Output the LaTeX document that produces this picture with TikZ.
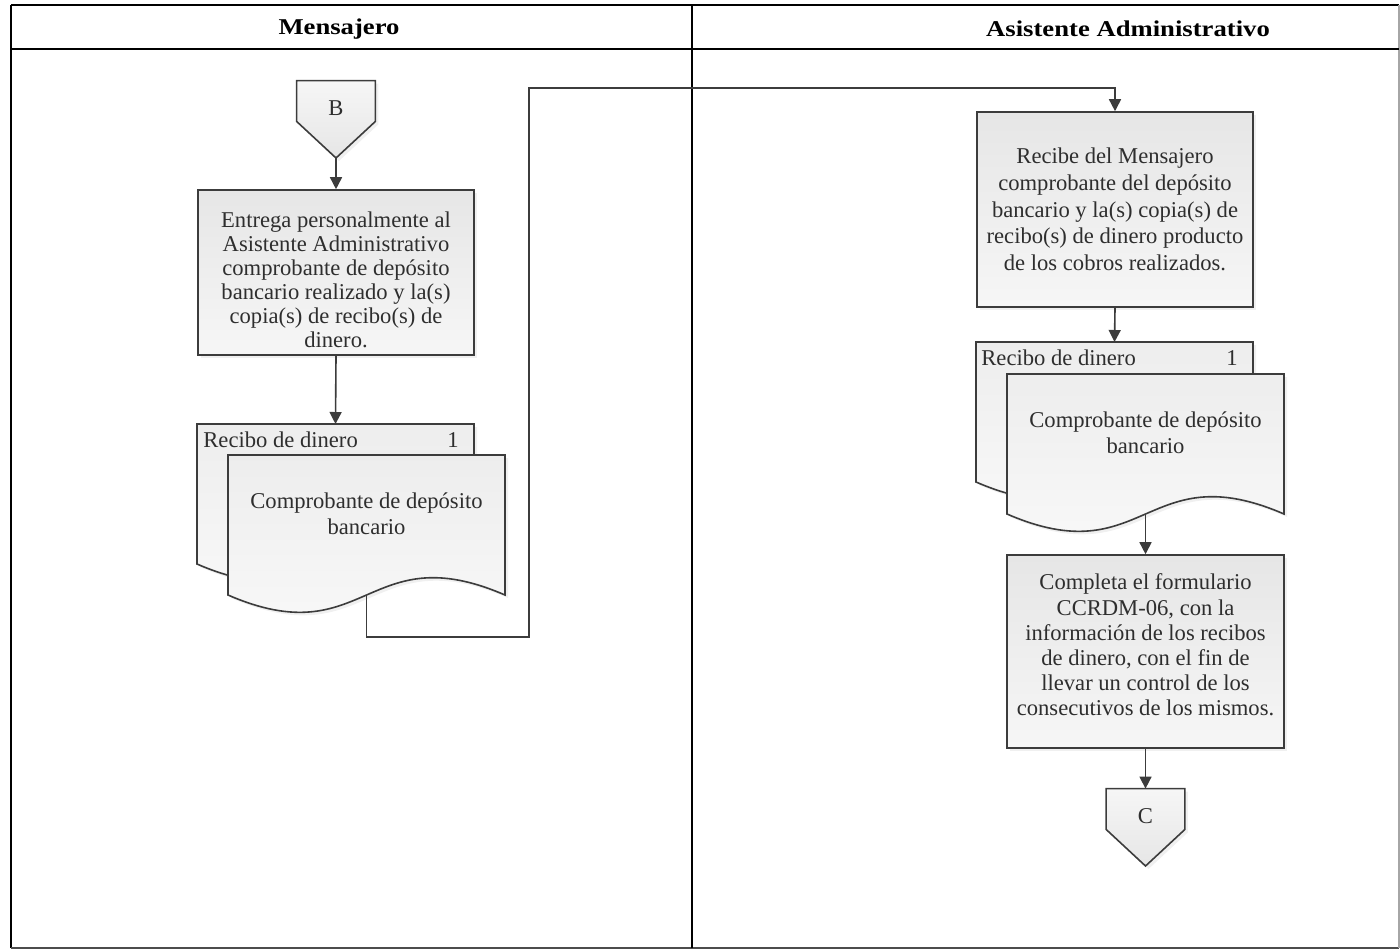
\documentclass[tikz,border=0pt]{standalone}
\usepackage{fontspec}
\setmainfont{Liberation Serif}
\newfontfamily\lanefont{Liberation Serif}[FakeStretch=1.18]
\usetikzlibrary{arrows.meta,shadows,calc}

\definecolor{ink}{HTML}{2E2E2E}
\definecolor{edge}{HTML}{3C3C3C}
\definecolor{fillA}{HTML}{E6E6E6}
\definecolor{fillB}{HTML}{F6F6F6}

\tikzset{
  every node/.style={font=\fontsize{11.3pt}{12pt}\selectfont, text=ink},
  flow/.style={draw=edge, line width=0.8pt, -{Triangle[width=6pt,length=6pt]}},
  softshadow/.style={drop shadow={opacity=0.12, shadow xshift=1.5pt, shadow yshift=-1.5pt}},
  procbox/.style={rectangle, draw=edge, line width=0.8pt, align=center,
    top color=fillA, bottom color=fillB, softshadow, inner sep=2pt},
  docbody/.style={draw=edge, line width=0.8pt, top color=black!7, bottom color=black!2, softshadow},
  pagelink/.style={rectangle, minimum width=39pt, minimum height=20pt, inner sep=0pt},
  linkbody/.style={draw=edge, line width=0.8pt, top color=fillB, bottom color=fillA, softshadow},
  lane/.style={font=\lanefont\bfseries\fontsize{11.3pt}{12pt}\selectfont, text=black},
  tag/.style={inner sep=0pt},
}

% document symbol: #1 name, #2 left x, #3 top y (277 wide, wave bottom)
\newcommand\drawdoc[3]{%
  \path[docbody] ({#2},{#3}) -- ({#2+277},{#3}) -- ({#2+277},{#3+140})
    .. controls ({#2+138.5},{#3+80}) and ({#2+138.5},{#3+200}) .. ({#2},{#3+140}) -- cycle;
  \coordinate (#1top) at ({#2+138.5},{#3});
  \coordinate (#1bot) at ({#2+138.5},{#3+140});
}

% off-page connector: #1 name, #2 centre x, #3 top y, #4 label
\newcommand\drawlink[4]{%
  \node[pagelink] (#1) at ({#2},{#3+21}) {};
  \coordinate (#1tip) at ({#2},{#3+78});
  \path[linkbody] (#1.north west) -- (#1.north east) -- (#1.south east) -- (#1tip) -- (#1.south west) -- cycle;
  \node (#1txt) at ({#2},{#3+28}) {#4};
}

\begin{document}
\begin{tikzpicture}[x=0.5pt, y=-0.5pt]
\useasboundingbox (0,0) rectangle (1400,949);

% swimlane frame
\draw[line width=1.1pt, black] (11,5) -- (1399,5);
\draw[line width=1.1pt, black] (11,5) -- (11,948);
\draw[line width=0.8pt, black!70] (11,948) -- (1399,948);
\draw[line width=0.6pt, black!35] (1399,5) -- (1399,948);
\draw[line width=1.1pt, black] (11,49) -- (1399,49);
\draw[line width=0.6pt, black] (692,5) -- (692,948);
\node[lane] (h1) at (339,29) {Mensajero};
\node[lane] (h2) at (1128,29) {Asistente Administrativo};

% Mensajero lane
\drawlink{B}{336}{80}{B}
\node[procbox, minimum width=138pt, minimum height=82.5pt] (b1) at (336,272.5) {};
\node[align=center] (b1txt) at (336,279.5)
  {Entrega personalmente al\\Asistente Administrativo\\comprobante de depósito\\bancario realizado y la(s)\\copia(s) de recibo(s) de\\dinero.};

\drawdoc{d1b}{197}{424}
\node[tag, anchor=base west] (d1lbl) at (203,447) {Recibo de dinero};
\node[tag, anchor=base east] (d1num) at (459,447) {1};
\drawdoc{d1f}{228}{455}
\node[align=center, font=\fontsize{11.3pt}{13pt}\selectfont] (d1txt) at (366.5,514) {Comprobante de depósito\\bancario};

% Asistente Administrativo lane
\node[procbox, minimum width=138pt, minimum height=97.5pt, font=\fontsize{11.3pt}{13.3pt}\selectfont] (b2) at (1115,209.5)
  {Recibe del Mensajero\\comprobante del depósito\\bancario y la(s) copia(s) de\\recibo(s) de dinero producto\\de los cobros realizados.};

\drawdoc{d2b}{976}{342}
\node[tag, anchor=base west] (d2lbl) at (981,365) {Recibo de dinero};
\node[tag, anchor=base east] (d2num) at (1238,365) {1};
\drawdoc{d2f}{1007}{374}
\node[align=center, font=\fontsize{11.3pt}{13pt}\selectfont] (d2txt) at (1145.5,433) {Comprobante de depósito\\bancario};

\node[procbox, minimum width=138.5pt, minimum height=96.5pt] (b3) at (1145.5,651.5) {};
\node[align=center, font=\fontsize{11.3pt}{12.6pt}\selectfont] (b3txt) at (1145.5,645)
  {Completa el formulario\\CCRDM-06, con la\\información de los recibos\\de dinero, con el fin de\\llevar un control de los\\consecutivos de los mismos.};

\drawlink{C}{1145.5}{788}{C}

% connectors
\coordinate (route1) at (529,637);
\coordinate (route2) at (529,88);
\draw[flow] (Btip) -- (b1.north);
\draw[flow] (b1.south) -- (d1btop);
\draw[flow] (d1fbot) |- (route1) -- (route2) -| (b2.north);
\draw[flow] (b2.south) -- (d2btop);
\draw[flow] (d2fbot) -- (b3.north);
\draw[flow] (b3.south) -- (C.north);
\end{tikzpicture}
\end{document}
